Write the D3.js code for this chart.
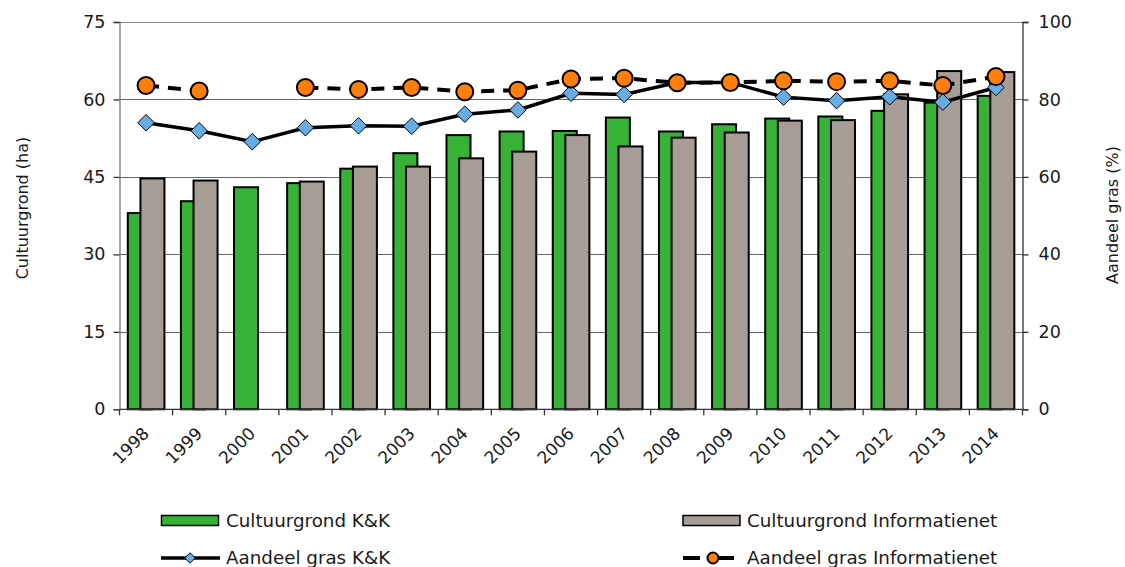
<!DOCTYPE html>
<html>
<head>
<meta charset="utf-8">
<script src="https://cdn.jsdelivr.net/npm/d3@7"></script>
<style>
  body { margin: 0; background: #fff; }
  svg text { font-family: "DejaVu Sans", Verdana, sans-serif; fill: #1a1a1a; }
</style>
</head>
<body>
<svg id="chart" width="1125" height="567"></svg>
<script>
// data
var years = ['1998','1999','2000','2001','2002','2003','2004','2005','2006','2007','2008','2009','2010','2011','2012','2013','2014'];
var cultKK = [38.0, 40.3, 43.0, 43.8, 46.6, 49.6, 53.1, 53.8, 53.9, 56.5, 53.8, 55.2, 56.3, 56.7, 57.8, 59.4, 60.7];
var cultInfo = [44.7, 44.3, null, 44.1, 47.0, 47.0, 48.6, 49.9, 53.1, 50.9, 52.6, 53.6, 55.9, 56.0, 61.0, 65.5, 65.3];
var grasKK = [74.0, 71.9, 69.1, 72.7, 73.2, 73.1, 76.2, 77.3, 81.6, 81.3, 84.4, 84.4, 80.6, 79.7, 80.7, 79.3, 83.1];
var grasInfo = [83.6, 82.2, null, 83.1, 82.6, 83.1, 82.0, 82.4, 85.3, 85.5, 84.3, 84.4, 84.8, 84.6, 84.8, 83.6, 85.9];
var leftTicks = [0, 15, 30, 45, 60, 75];
var rightTicks = [0, 20, 40, 60, 80, 100];

var GREEN = '#36b236', GREY = '#a59d96', ORANGE = '#ff7f0a', BLUE = '#67ace3';

var svg = d3.select('#chart');
var plotLeft = 119.5, plotRight = 1022.5, plotTop = 22, plotBottom = 409.3;

var x = d3.scaleBand().domain(years).range([plotLeft, plotRight]).paddingInner(0).paddingOuter(0);
var yL = d3.scaleLinear().domain([0, 75]).range([plotBottom, plotTop]);
var yR = d3.scaleLinear().domain([0, 100]).range([plotBottom, plotTop]);
var bw = x.bandwidth();
var barW = bw * 0.452, barOff = bw * 0.156, shift = bw * 0.238;

// grid lines
svg.append('g').selectAll('line').data(leftTicks.slice(1)).enter().append('line')
    .attr('x1', plotLeft).attr('x2', plotRight)
    .attr('y1', function(d) { return Math.round(yL(d)) + 0.5; })
    .attr('y2', function(d) { return Math.round(yL(d)) + 0.5; })
    .attr('stroke', function(d) { return d === 75 ? '#888' : '#666'; })
    .attr('stroke-width', 1.2);

// bars
var bars = svg.append('g');
bars.selectAll('.kk').data(years).enter().append('rect')
    .attr('class', 'kk')
    .attr('x', function(d) { return x(d) + barOff; })
    .attr('width', barW)
    .attr('y', function(d, i) { return yL(cultKK[i]); })
    .attr('height', function(d, i) { return yL(0) - yL(cultKK[i]); })
    .attr('fill', GREEN).attr('stroke', '#000').attr('stroke-width', 2);
bars.selectAll('.info').data(years.filter(function(d, i) { return cultInfo[i] != null; })).enter().append('rect')
    .attr('class', 'info')
    .attr('x', function(d) { return x(d) + barOff + shift; })
    .attr('width', barW)
    .attr('y', function(d) { return yL(cultInfo[years.indexOf(d)]); })
    .attr('height', function(d) { return yL(0) - yL(cultInfo[years.indexOf(d)]); })
    .attr('fill', GREY).attr('stroke', '#000').attr('stroke-width', 2);

// axes
var axL = svg.append('g').attr('transform', 'translate(' + plotLeft + ',0)')
    .call(d3.axisLeft(yL).tickValues(leftTicks).tickSize(6).tickPadding(8));
var axR = svg.append('g').attr('transform', 'translate(' + plotRight + ',0)')
    .call(d3.axisRight(yR).tickValues(rightTicks).tickSize(6).tickPadding(10));
[axL, axR].forEach(function(a) {
    a.select('.domain').attr('stroke', '#333').attr('stroke-width', 1.3);
    a.selectAll('.tick line').attr('stroke', '#333').attr('stroke-width', 1.3);
    a.selectAll('text').attr('font-size', 17.5).attr('fill', '#1a1a1a');
});
axL.select('.domain').attr('stroke', '#777');

// bottom axis: ticks on band boundaries
var xb = svg.append('g');
xb.append('line').attr('x1', plotLeft).attr('x2', plotRight).attr('y1', plotBottom).attr('y2', plotBottom)
    .attr('stroke', '#333').attr('stroke-width', 1.3);
xb.selectAll('.bt').data(years.concat(['end'])).enter().append('line')
    .attr('x1', function(d, i) { return plotLeft + i * bw; })
    .attr('x2', function(d, i) { return plotLeft + i * bw; })
    .attr('y1', plotBottom).attr('y2', plotBottom + 6)
    .attr('stroke', '#333').attr('stroke-width', 1.3);
xb.selectAll('text').data(years).enter().append('text')
    .attr('transform', function(d) {
        return 'translate(' + (x(d) + bw / 2) + ',' + (plotBottom + 21) + ') rotate(-45)';
    })
    .attr('text-anchor', 'end').attr('dy', '0.35em')
    .attr('font-size', 17)
    .text(function(d) { return d; });

// axis titles
svg.append('text').attr('transform', 'translate(28,208) rotate(-90)')
    .attr('text-anchor', 'middle').attr('font-size', 16).text('Cultuurgrond (ha)');
svg.append('text').attr('transform', 'translate(1118,215) rotate(-90)')
    .attr('text-anchor', 'middle').attr('font-size', 16).text('Aandeel gras (%)');

// lines
var cx = function(i) { return x(years[i]) + bw / 2; };
var lineKK = d3.line().x(function(d, i) { return cx(i); }).y(function(d) { return yR(d); });
svg.append('path').datum(grasKK).attr('d', lineKK)
    .attr('fill', 'none').attr('stroke', '#000').attr('stroke-width', 3.5);

var lineInfo = d3.line().defined(function(d) { return d != null; })
    .x(function(d, i) { return cx(i); }).y(function(d) { return yR(d); });
svg.append('path').datum(grasInfo).attr('d', lineInfo)
    .attr('fill', 'none').attr('stroke', '#000').attr('stroke-width', 4)
    .attr('stroke-dasharray', '13,9');

var diamond = d3.symbol().type(d3.symbolDiamond2).size(175);
svg.append('g').selectAll('path').data(grasKK).enter().append('path')
    .attr('d', diamond)
    .attr('transform', function(d, i) { return 'translate(' + cx(i) + ',' + yR(d) + ')'; })
    .attr('fill', BLUE).attr('stroke', '#000').attr('stroke-width', 1);

svg.append('g').selectAll('circle').data(grasInfo.map(function(v, i) { return {v: v, i: i}; })
        .filter(function(d) { return d.v != null; }))
    .enter().append('circle')
    .attr('cx', function(d) { return cx(d.i); })
    .attr('cy', function(d) { return yR(d.v); })
    .attr('r', 8.5)
    .attr('fill', ORANGE).attr('stroke', '#000').attr('stroke-width', 2);

// legend
var lg = svg.append('g');
lg.append('rect').attr('x', 161.5).attr('y', 515.5).attr('width', 57).attr('height', 10)
    .attr('fill', GREEN).attr('stroke', '#000').attr('stroke-width', 1.5);
lg.append('text').attr('x', 226).attr('y', 527).attr('font-size', 18.3).text('Cultuurgrond K&K');
lg.append('rect').attr('x', 683).attr('y', 515.5).attr('width', 57).attr('height', 10)
    .attr('fill', GREY).attr('stroke', '#000').attr('stroke-width', 1.5);
lg.append('text').attr('x', 747).attr('y', 527).attr('font-size', 18.3).text('Cultuurgrond Informatienet');

lg.append('line').attr('x1', 161).attr('x2', 220).attr('y1', 558).attr('y2', 558)
    .attr('stroke', '#000').attr('stroke-width', 3.5);
lg.append('path').attr('d', d3.symbol().type(d3.symbolDiamond2).size(70))
    .attr('transform', 'translate(190,558)').attr('fill', BLUE).attr('stroke', '#000').attr('stroke-width', 1);
lg.append('text').attr('x', 226).attr('y', 564).attr('font-size', 18.3).text('Aandeel gras K&K');

lg.append('line').attr('x1', 683).attr('x2', 734).attr('y1', 558).attr('y2', 558)
    .attr('stroke', '#000').attr('stroke-width', 4).attr('stroke-dasharray', '17,9,30');
lg.append('circle').attr('cx', 713).attr('cy', 558).attr('r', 5.5)
    .attr('fill', ORANGE).attr('stroke', '#000').attr('stroke-width', 2);
lg.append('text').attr('x', 747).attr('y', 564).attr('font-size', 18.3).text('Aandeel gras Informatienet');
</script>
</body>
</html>
